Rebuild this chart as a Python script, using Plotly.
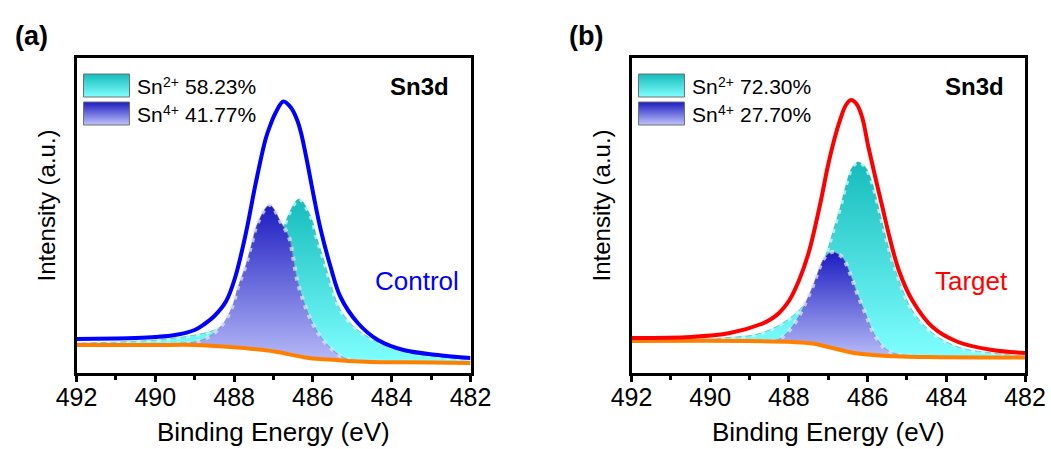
import numpy as np
import plotly.graph_objects as go

W, H = 1051, 449

# ---------------- data (binding energy in eV, intensity in a.u.) ----------------
# Panel (a) Control
a_env_x = [492, 491, 490.5, 490, 489.5, 489, 488.75, 488.5, 488.2, 487.97, 487.7, 487.45, 487.2,
           487.07, 486.95, 486.75, 486.55, 486.4, 486.3, 486.12, 485.97, 485.8, 485.55, 485.3,
           484.86, 484.35, 483.7, 482.83, 482]
a_env_y = [3.4, 3.45, 3.5, 3.6, 3.8, 4.3, 4.9, 5.7, 7.2, 9.6, 14.0, 19.0, 23.4,
           24.9, 26.0, 27.15, 26.5, 25.3, 24.0, 20.6, 17.5, 14.3, 10.6, 7.6,
           5.0, 3.3, 2.3, 1.8, 1.5]
a_bg_x = [492, 490, 489, 488.1, 487.25, 486.9, 486.1, 485.4, 485.1, 484.5, 483, 482]
a_bg_y = [2.8, 2.8, 2.8, 2.6, 2.3, 2.1, 1.5, 1.3, 1.2, 1.1, 1.05, 1.0]
a_sn4_x = [492, 490.5, 490, 489.5, 489, 488.65, 488.3, 488.05, 487.9, 487.7, 487.55, 487.4, 487.1,
           486.8, 486.6, 486.5, 486.4, 486.25, 486.05, 485.8, 485.5, 485.2, 484.8, 484, 483, 482]
a_sn4_y = [2.8, 2.82, 2.85, 2.95, 3.1, 3.6, 4.8, 6.6, 8.6, 10.8, 13.0, 15.0, 16.8,
           15.0, 13.5, 11.5, 9.3, 7.3, 5.3, 3.6, 2.3, 1.5, 1.2, 1.1, 1.05, 1.0]
a_sn2_x = [492, 491, 490, 489.5, 489, 488.5, 488, 487.5, 487, 486.7, 486.6, 486.35, 486.05,
           485.9, 485.7, 485.5, 485.3, 484.95, 484.45, 483.45, 482.5, 482]
a_sn2_y = [3.0, 3.1, 3.3, 3.5, 3.8, 4.3, 5.5, 7.8, 12.3, 15.0, 16.0, 17.4, 15.6,
           13.5, 11.0, 8.3, 6.3, 4.6, 3.3, 2.0, 1.5, 1.3]

# Panel (b) Target
b_env_x = [492, 490.5, 489.5, 488.7, 488.45, 488.25, 488, 487.75, 487.5, 487.2, 487.02, 486.87,
           486.7, 486.55, 486.42, 486.28, 486.14, 485.98, 485.8, 485.6, 485.45, 485.2, 484.87,
           484.35, 483.7, 482.83, 482]
b_env_y = [3.5, 3.6, 4.0, 4.9, 5.4, 6.0, 7.2, 9.2, 12.0, 17.0, 20.5, 23.0,
           25.3, 26.8, 27.3, 26.9, 25.6, 22.6, 19.5, 16.2, 13.7, 10.2, 7.3,
           4.6, 3.1, 2.3, 2.0]
b_bg_x = [492, 489, 487.9, 487.4, 487, 486.35, 485.5, 484.5, 482]
b_bg_y = [3.2, 3.2, 3.1, 2.95, 2.6, 2.0, 1.7, 1.6, 1.55]
b_sn2_x = [492, 490, 489.75, 488.9, 488.5, 488.04, 487.53, 487.02, 486.87, 486.7, 486.57, 486.4,
           486.24, 486.06, 485.88, 485.75, 485.6, 485.45, 485.2, 484.87, 484.35, 483.7, 482.83, 482]
b_sn2_y = [3.3, 3.4, 3.5, 3.8, 4.3, 5.3, 7.3, 12.3, 14.3, 16.5, 18.5, 20.5,
           21.1, 20.6, 19.0, 17.0, 14.6, 12.3, 9.3, 6.3, 4.0, 2.6, 2.0, 1.7]
b_sn4_x = [492, 489, 488.3, 488.05, 487.8, 487.58, 487.4, 487.27, 487.1, 486.9, 486.65, 486.45,
           486.27, 486.06, 485.85, 485.6, 485.35, 485, 484.5, 482]
b_sn4_y = [3.2, 3.25, 3.3, 4.0, 5.3, 7.0, 8.6, 10.0, 11.5, 12.1, 11.6, 10.0,
           8.0, 6.0, 4.0, 2.6, 2.0, 1.75, 1.62, 1.55]

panel_labels = ["(a)", "(b)"]
sample_names = ["Control", "Target"]
species = ["Sn", "Sn"]
charges = ["2+", "4+"]
sn2_pct = ["58.23%", "72.30%"]
sn4_pct = ["41.77%", "27.70%"]
x_ticks = [492, 490, 488, 486, 484, 482]
x_minor = [491, 489, 487, 485, 483]

# ---------------- styling ----------------
FONT = "Liberation Sans, Arial, sans-serif"
SN2_SCALE = [[0, "#80ffff"], [1, "#16bcbc"]]
SN4_SCALE = [[0, "#b8bcf8"], [1, "#1c1cc0"]]
ENV_COLORS = ["#0000ff", "#ff0000"]
BG_COLOR = "#ff8000"

# plot-area geometry in pixels
px_left = [76.5, 631.5]
px_right = [470.5, 1025.0]
px_top, px_bot = 57.5, 373.0
Y_RANGE = [0, 31.55]

fig = go.Figure()

panels = [
    (a_env_x, a_env_y, a_bg_x, a_bg_y, a_sn2_x, a_sn2_y, a_sn4_x, a_sn4_y),
    (b_env_x, b_env_y, b_bg_x, b_bg_y, b_sn2_x, b_sn2_y, b_sn4_x, b_sn4_y),
]

def spl(**kw):
    return dict(shape="spline", smoothing=1.0, **kw)

for i, (ex, ey, bx, by, s2x, s2y, s4x, s4y) in enumerate(panels):
    xa = "x" if i == 0 else "x2"
    ya = "y" if i == 0 else "y2"
    common = dict(xaxis=xa, yaxis=ya, showlegend=False, hoverinfo="skip", mode="lines")
    # Sn2+ component
    fig.add_trace(go.Scatter(x=bx, y=by, line=spl(width=0, color="rgba(0,0,0,0)"), **common))
    fig.add_trace(go.Scatter(x=s2x, y=s2y, fill="tonexty",
                             fillgradient=dict(type="vertical", colorscale=SN2_SCALE),
                             line=spl(width=1, color="rgba(110,150,150,0.6)"), **common))
    fig.add_trace(go.Scatter(x=s2x, y=s2y, line=spl(width=4, color="rgba(210,255,255,0.75)", dash="4px,6px"),
                             **common))
    # Sn4+ component
    fig.add_trace(go.Scatter(x=bx, y=by, line=spl(width=0, color="rgba(0,0,0,0)"), **common))
    fig.add_trace(go.Scatter(x=s4x, y=s4y, fill="tonexty",
                             fillgradient=dict(type="vertical", colorscale=SN4_SCALE),
                             line=spl(width=1, color="rgba(120,120,160,0.6)"), **common))
    fig.add_trace(go.Scatter(x=s4x, y=s4y, line=spl(width=4, color="rgba(225,225,255,0.75)", dash="4px,6px"),
                             **common))
    # background and envelope
    fig.add_trace(go.Scatter(x=bx, y=by, line=spl(width=4, color=BG_COLOR), **common))
    fig.add_trace(go.Scatter(x=ex, y=ey, line=spl(width=4, color=ENV_COLORS[i]), **common))

axis_common = dict(showgrid=False, zeroline=False, showline=True, linecolor="black",
                   linewidth=3, mirror=True, automargin=False)
for i in range(2):
    xkey = "xaxis" if i == 0 else "xaxis2"
    ykey = "yaxis" if i == 0 else "yaxis2"
    fig.layout[xkey] = dict(
        domain=[px_left[i] / W, px_right[i] / W], range=[492, 482], anchor="y" if i == 0 else "y2",
        tickvals=x_ticks, ticktext=[str(t) for t in x_ticks], ticks="outside", ticklen=6,
        ticklabelstandoff=-6,
        tickwidth=2.5, tickcolor="black", tickfont=dict(family=FONT, size=25, color="black"),
        minor=dict(tickvals=x_minor, ticks="outside", ticklen=4, tickwidth=2.5, tickcolor="black"),
        **axis_common)
    fig.layout[ykey] = dict(
        domain=[1 - px_bot / H, 1 - px_top / H], range=Y_RANGE, anchor="x" if i == 0 else "x2",
        showticklabels=False, ticks="", **axis_common)

def P(xp, yp):
    return xp / W, 1 - yp / H

annotations = []
def add_text(xp, yp, text, size, color="black", bold=False, xanchor="center", angle=0):
    x, y = P(xp, yp)
    annotations.append(dict(x=x, y=y, xref="paper", yref="paper", text=f"<b>{text}</b>" if bold else text,
                            showarrow=False, xanchor=xanchor, yanchor="middle", textangle=angle,
                            font=dict(family=FONT, size=size, color=color)))

shapes = []
def grad_box(x0, y0, x1, y1, c_top, c_bot, n=23):
    ct = np.array([int(c_top[k:k + 2], 16) for k in (1, 3, 5)], float)
    cb = np.array([int(c_bot[k:k + 2], 16) for k in (1, 3, 5)], float)
    ys = np.linspace(y0, y1, n + 1)
    for j in range(n):
        t = (j + 0.5) / n
        c = ct * (1 - t) + cb * t
        col = "rgb(%d,%d,%d)" % tuple(c.round())
        xa, ya0 = P(x0, ys[j])
        xb, ya1 = P(x1, min(ys[j + 1] + 0.7, y1))
        shapes.append(dict(type="rect", xref="paper", yref="paper", x0=xa, x1=xb, y0=ya1, y1=ya0,
                           fillcolor=col, line=dict(width=0), layer="above"))
    xa, ya0 = P(x0, y0)
    xb, ya1 = P(x1, y1)
    shapes.append(dict(type="rect", xref="paper", yref="paper", x0=xa, x1=xb, y0=ya1, y1=ya0,
                       line=dict(color="#707070", width=1), layer="above"))

for i in range(2):
    L = px_left[i]
    R = px_right[i]
    add_text(L - 45.5, 36, panel_labels[i], 27, bold=True)
    add_text(L - 31, 206, "Intensity (a.u.)", 24, angle=-90)
    add_text((L + R) / 2, 432, "Binding Energy (eV)", 26)
    add_text(R - 51, 86, "Sn3d", 24, bold=True)
    add_text(R - 54, 281, sample_names[i], 26, color=ENV_COLORS[i])
    bx0 = L + 7
    grad_box(bx0, 74, bx0 + 46, 97, "#16bcbc", "#80ffff")
    grad_box(bx0, 102, bx0 + 46, 125, "#1c1cc0", "#c0c4fa")
    for row, (yc, pct) in enumerate([(86.5, sn2_pct[i]), (114.5, sn4_pct[i])]):
        add_text(L + 58.5, yc, species[row], 21, xanchor="left")
        add_text(L + 84, yc - 5, charges[row], 14, xanchor="left")
        add_text(L + 106, yc, pct, 21, xanchor="left")

fig.update_layout(width=W, height=H, margin=dict(l=0, r=0, t=0, b=0),
                  paper_bgcolor="white", plot_bgcolor="white",
                  annotations=annotations, shapes=shapes, showlegend=False)

fig.write_html("out.html")
